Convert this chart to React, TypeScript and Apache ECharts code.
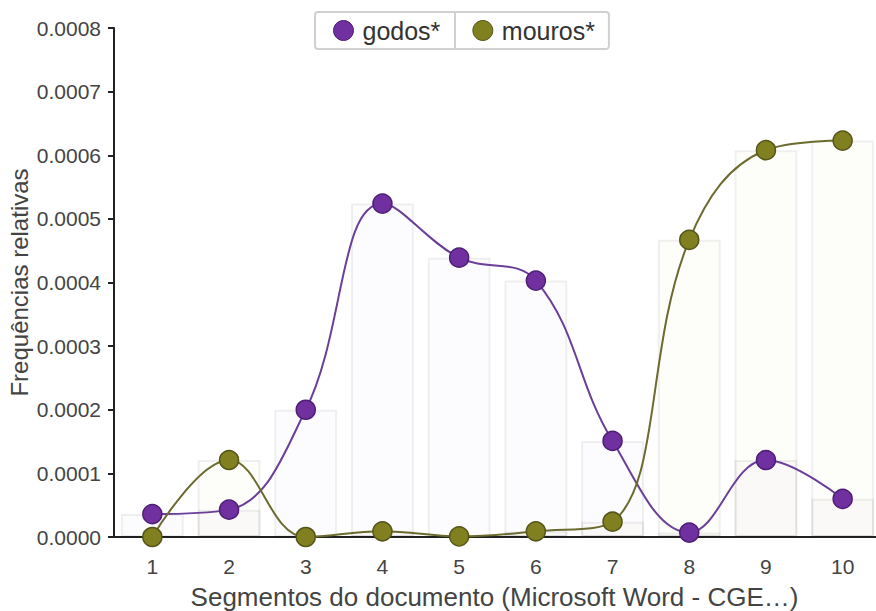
import React, { useEffect, useRef } from "react";
import * as echarts from "echarts";

const categories = ["1", "2", "3", "4", "5", "6", "7", "8", "9", "10"];
const godos = [0.000036, 0.000043, 0.0002, 0.000524, 0.000439, 0.000403, 0.000151, 0.000007, 0.000121, 0.00006];
const mouros = [0.0, 0.000121, 0.0, 0.000009, 0.000001, 0.000009, 0.000024, 0.000467, 0.000608, 0.000623];
const yTicks = { min: 0, max: 0.0008, interval: 0.0001 };

const FONT = "'Liberation Sans', Arial, sans-serif";

export default function App() {
  const ref = useRef<HTMLDivElement>(null);
  useEffect(() => {
    document.body.style.margin = "0";
    document.body.style.overflow = "hidden";
    const chart = echarts.init(ref.current!, undefined, { renderer: "svg" });
    const purple = "#7030a0";
    const olive = "#808020";
    chart.setOption({
      animation: false,
      textStyle: { fontFamily: FONT },
      grid: { left: 114, right: -5, top: 28, bottom: 74, containLabel: false, outerBoundsMode: "none" },
      legend: {
        data: [
          { name: "godos*", itemStyle: { color: purple, borderColor: "#4e1f75", borderWidth: 1 } },
          { name: "mouros*", itemStyle: { color: olive, borderColor: "#55551a", borderWidth: 1 } },
        ],
        left: 315,
        top: 12,
        icon: "circle",
        itemWidth: 20,
        itemHeight: 20,
        itemGap: 32,
        borderColor: "#d0d0d0",
        borderWidth: 2,
        borderRadius: 3,
        padding: [6, 14, 6, 18],
        textStyle: { fontSize: 25, color: "#333", fontFamily: FONT, padding: [0, 0, 0, 4] },
      },
      graphic: [
        { type: "line", shape: { x1: 455, y1: 13, x2: 455, y2: 49 }, style: { stroke: "#d0d0d0", lineWidth: 2 } },
      ],
      xAxis: {
        type: "category",
        data: categories,
        boundaryGap: true,
        axisLine: { lineStyle: { color: "#222", width: 2 } },
        axisTick: { alignWithLabel: true, length: 7, lineStyle: { color: "#222", width: 2 } },
        axisLabel: { fontSize: 21, color: "#444", margin: 19 },
        name: "Segmentos do documento (Microsoft Word - CGE…)",
        nameLocation: "middle",
        nameGap: 47,
        nameMoveOverlap: false,
        nameTextStyle: { fontSize: 26, color: "#444", padding: [0, 6, 0, 0] },
      },
      yAxis: {
        type: "value",
        min: yTicks.min,
        max: yTicks.max,
        interval: yTicks.interval,
        splitLine: { show: false },
        axisLine: { show: true, lineStyle: { color: "#222", width: 2 } },
        axisTick: { show: true, length: 6, lineStyle: { color: "#222", width: 2 } },
        axisLabel: { fontSize: 21, color: "#444", margin: 13, formatter: (v: number) => v.toFixed(4) },
        name: "Frequências relativas",
        nameLocation: "middle",
        nameGap: 83,
        nameMoveOverlap: false,
        nameTextStyle: { fontSize: 24, color: "#444" },
      },
      series: [
        {
          name: "godos bars",
          type: "bar",
          data: godos,
          barWidth: "82%",
          barGap: "-100%",
          itemStyle: { color: "rgba(112,48,160,0.02)", borderColor: "rgba(0,0,0,0.06)", borderWidth: 2 },
          silent: true,
          z: 1,
        },
        {
          name: "mouros bars",
          type: "bar",
          data: mouros,
          barWidth: "82%",
          barGap: "-100%",
          itemStyle: { color: "rgba(128,128,0,0.02)", borderColor: "rgba(0,0,0,0.06)", borderWidth: 2 },
          silent: true,
          z: 1,
        },
        {
          name: "godos*",
          type: "line",
          data: godos,
          smooth: 0.4,
          symbol: "circle",
          symbolSize: 19,
          lineStyle: { color: "#6a3f98", width: 2 },
          itemStyle: { color: purple, borderColor: "#4e1f75", borderWidth: 1.5 },
          z: 3,
        },
        {
          name: "mouros*",
          type: "line",
          data: mouros,
          smooth: 0.4,
          symbol: "circle",
          symbolSize: 19,
          lineStyle: { color: "#6b6b30", width: 2 },
          itemStyle: { color: olive, borderColor: "#55551a", borderWidth: 1.5 },
          z: 4,
        },
      ],
    });
    return () => chart.dispose();
  }, []);
  return <div ref={ref} style={{ width: 876, height: 611 }} />;
}
